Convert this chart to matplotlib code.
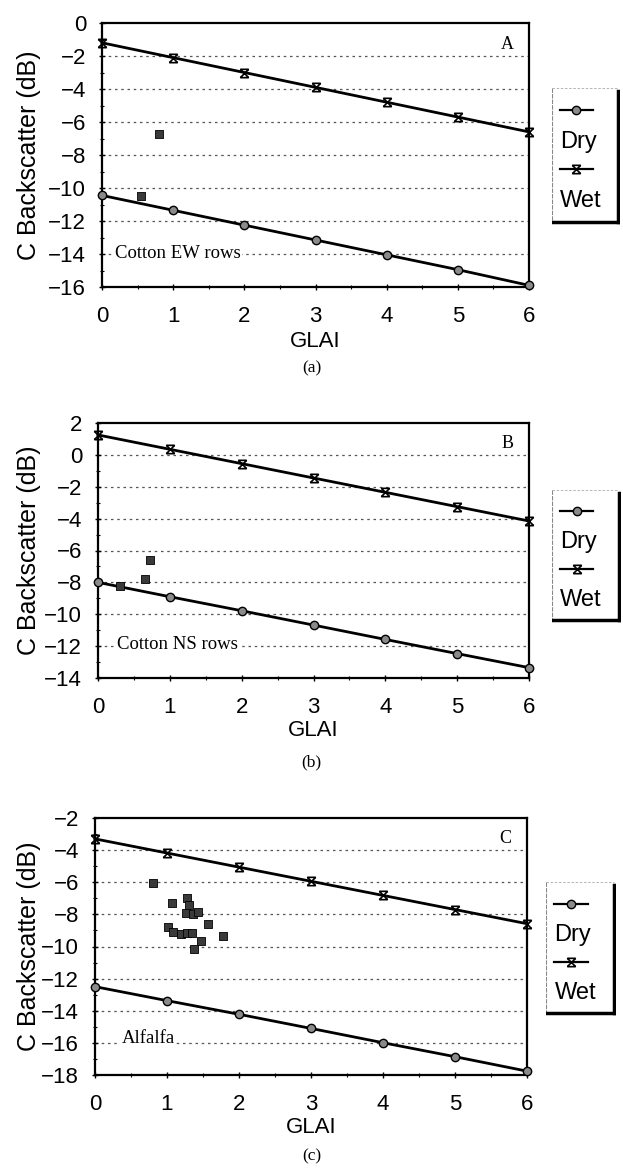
import numpy as np
import matplotlib
matplotlib.use("Agg")
import matplotlib.pyplot as plt
from matplotlib.path import Path
from matplotlib.lines import Line2D

# ---------------- data ----------------
glai = [0, 1, 2, 3, 4, 5, 6]

dry_a = [-10.45, -11.35, -12.25, -13.15, -14.05, -14.95, -15.9]
wet_a = [-1.2, -2.1, -3.0, -3.9, -4.8, -5.7, -6.6]
obs_a_x = [0.8, 0.55]
obs_a_y = [-6.7, -10.5]

dry_b = [-8.0, -8.9, -9.78, -10.68, -11.58, -12.47, -13.35]
wet_b = [1.25, 0.35, -0.55, -1.45, -2.35, -3.25, -4.15]
obs_b_x = [0.72, 0.65, 0.3]
obs_b_y = [-6.6, -7.8, -8.2]

dry_c = [-12.5, -13.37, -14.22, -15.1, -15.99, -16.86, -17.76]
wet_c = [-3.3, -4.18, -5.06, -5.94, -6.82, -7.7, -8.58]
obs_c_x = [0.81, 1.07, 1.28, 1.31, 1.26, 1.36, 1.43, 1.57, 1.01, 1.08,
           1.19, 1.28, 1.35, 1.47, 1.37, 1.78]
obs_c_y = [-6.06, -7.28, -7.0, -7.43, -7.93, -7.98, -7.83, -8.63, -8.8,
           -9.08, -9.22, -9.18, -9.14, -9.68, -10.17, -9.33]

panel_letters = ["A", "B", "C"]
crop_names = ["Cotton EW rows", "Cotton NS rows", "Alfalfa"]
captions = ["(a)", "(b)", "(c)"]
ylims = [(-16, 0), (-14, 2), (-18, -2)]
series_labels = ["Dry", "Wet"]

# ---------------- style ----------------
SANS = "Liberation Sans"
SERIF = "Liberation Serif"
W, H = 623, 1170
fig = plt.figure(figsize=(W / 100, H / 100), dpi=100)

hourglass = Path([(-1, 1), (1, -1), (-1, -1), (1, 1), (-1, 1), (1, 1), (-1, -1), (1, -1)],
                 [Path.MOVETO, Path.LINETO, Path.MOVETO, Path.LINETO,
                  Path.MOVETO, Path.LINETO, Path.MOVETO, Path.LINETO])

dry_style = dict(color="black", lw=2.0, marker="o", ms=6, mfc="#8a8a8a", mec="black", mew=1.0)
wet_style = dict(color="black", lw=2.0, marker=hourglass, ms=6, mfc="none", mec="black", mew=1.2)

# axes boxes in pixels: left, right, top, bottom
boxes = [(102, 529, 23, 287), (98, 529, 423, 678), (95, 527, 818, 1075)]
legend_boxes = [(552, 620, 88, 226), (552, 621, 490, 624), (546, 616, 882, 1017)]
text_pos = [(0.18, -14.0), (0.26, -11.9), (0.37, -15.7)]
caption_y = [368, 762, 1156]

datasets = [(dry_a, wet_a, obs_a_x, obs_a_y),
            (dry_b, wet_b, obs_b_x, obs_b_y),
            (dry_c, wet_c, obs_c_x, obs_c_y)]

for i, (dry, wet, ox, oy) in enumerate(datasets):
    l, r, t, b = boxes[i]
    ax = fig.add_axes([l / W, 1 - b / H, (r - l) / W, (b - t) / H])
    ax.set_xlim(0, 6)
    ax.set_ylim(*ylims[i])
    ymin, ymax = ylims[i]
    ax.set_yticks(np.arange(ymin, ymax + 0.1, 2))
    ax.set_xticks(glai)
    ax.set_xticks(np.arange(0, 6.01, 0.5), minor=True)
    ax.set_yticks(np.arange(ymin, ymax + 0.1, 1), minor=True)
    for yv in np.arange(ymin + 2, ymax - 0.1, 2):
        ax.axhline(yv, color="#555555", lw=0.9, ls=(0, (2, 3)), zorder=0)
    for s in ax.spines.values():
        s.set_linewidth(1.6)
    ax.tick_params(which="major", direction="inout", length=5, width=1.0, pad=9,
                   labelsize=16)
    ax.tick_params(axis="x", which="major", pad=11)
    ax.tick_params(which="minor", direction="inout", length=3, width=0.8)
    for lab in ax.get_xticklabels() + ax.get_yticklabels():
        lab.set_fontfamily(SANS)

    ax.plot(glai, dry, label=series_labels[0], clip_on=False, zorder=4, **dry_style)
    ax.plot(glai, wet, label=series_labels[1], clip_on=False, zorder=4, **wet_style)
    ax.scatter(ox, oy, marker="s", s=36, color="#3a3a3a", edgecolors="black",
               linewidths=0.6, zorder=5)

    ax.set_ylabel("C Backscatter (dB)", fontsize=18, fontfamily=SANS)
    ax.yaxis.set_label_coords((41 - l) / (r - l), 0.5)
    ax.set_xlabel("GLAI", fontsize=16, fontfamily=SANS)
    ax.xaxis.set_label_coords(0.5, -0.165)

    ax.text(0.95, 0.92, panel_letters[i], transform=ax.transAxes, fontsize=13,
            fontfamily=SERIF, ha="center", va="center")
    ax.text(text_pos[i][0], text_pos[i][1], crop_names[i], fontsize=13.5,
            fontfamily=SERIF, ha="left", va="center", zorder=3,
            bbox=dict(facecolor="white", edgecolor="none", pad=1.0))

    fig.text(0.5, 1 - caption_y[i] / H, captions[i], fontsize=12.5,
             fontfamily=SERIF, ha="center", va="center")

    # ----- legend box (Excel style with shadow) -----
    ll, lr, lt, lb = legend_boxes[i]
    lax = fig.add_axes([ll / W, 1 - lb / H, (lr - ll) / W, (lb - lt) / H])
    lax.set_xlim(0, 1)
    lax.set_ylim(1, 0)
    lax.set_axis_off()
    lax.plot([0, 0], [0, 0.97], color="#888888", lw=0.8, ls=(0, (4, 1)))
    lax.plot([0, 0.97], [0, 0], color="#aaaaaa", lw=0.6, ls=(0, (3, 2)))
    lax.plot([0.97, 0.97], [0.02, 0.97], color="black", lw=2.5)
    lax.plot([0.0, 0.97], [0.97, 0.97], color="black", lw=2.5)
    hy = [0.16, 0.39, 0.59, 0.82]
    for k, st in enumerate([dry_style, wet_style]):
        lax.add_line(Line2D([0.12, 0.6], [hy[2 * k]] * 2, color="black", lw=1.6))
        lax.add_line(Line2D([0.36], [hy[2 * k]], ls="none",
                            **{kk: v for kk, v in st.items() if kk not in ("color", "lw")}))
        lax.text(0.12, hy[2 * k + 1], series_labels[k], fontsize=17, fontfamily=SANS,
                 ha="left", va="center")

fig.savefig("out.png", dpi=100)
